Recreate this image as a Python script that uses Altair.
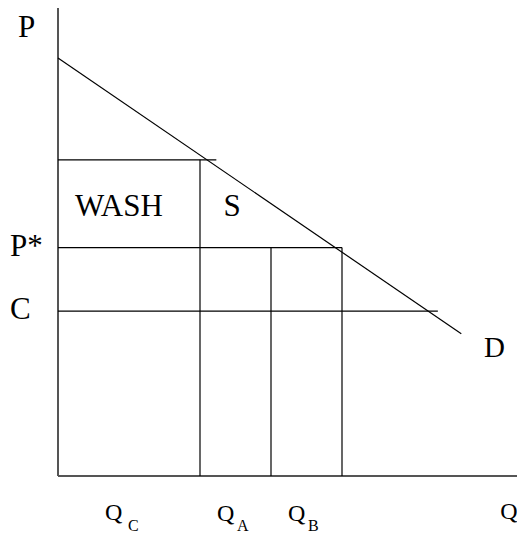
import altair as alt
import pandas as pd

# Diagram coordinates (Q horizontal, P vertical)
q_axis_end = 6.465
p_axis_end = 10.0
demand_q = [0.0, 5.68]
demand_p = [8.82, 3.0]
p_top = 6.67
p_star = 4.82
p_c = 3.48
q_a = 2.0
q_b = 3.0
q_x = 4.0
top_end = 2.23
c_end = 5.35

# segments: x, y, x2, y2, kind
seg_x = [0, 0, demand_q[0], 0, 0, 0, q_a, q_b, q_x]
seg_y = [0, 0, demand_p[0], p_top, p_star, p_c, 0, 0, 0]
seg_x2 = [0, q_axis_end, demand_q[1], top_end, q_x, c_end, q_a, q_b, q_x]
seg_y2 = [p_axis_end, 0, demand_p[1], p_top, p_star, p_c, p_top, p_star, p_star]
seg_kind = ["axis", "axis", "line", "line", "line", "line", "line", "line", "line"]

# big labels
big_text = ["P", "P*", "C", "WASH", "S"]
big_q = [-0.563, -0.676, -0.676, 0.239, 2.33]
big_p = [9.27, 4.64, 3.31, 5.485, 5.485]

d_text = ["D"]
d_q = [6.0]
d_p = [2.51]

q_text = ["Q", "Q", "Q", "Q"]
q_q = [0.662, 2.24, 3.24, 6.23]
q_p = [-0.928, -0.95, -0.95, -0.91]

sub_text = ["C", "A", "B"]
sub_q = [0.986, 2.52, 3.52]
sub_p = [-1.17, -1.17, -1.17]

segs = pd.DataFrame({"x": seg_x, "y": seg_y, "x2": seg_x2, "y2": seg_y2, "kind": seg_kind})
big = pd.DataFrame({"t": big_text, "q": big_q, "p": big_p})
dlab = pd.DataFrame({"t": d_text, "q": d_q, "p": d_p})
qlab = pd.DataFrame({"t": q_text, "q": q_q, "p": q_p})
slab = pd.DataFrame({"t": sub_text, "q": sub_q, "p": sub_p})

xs = alt.Scale(domain=[-50 / 71, 459 / 71], nice=False, zero=False)
ys = alt.Scale(domain=[-57 / 47.4, 468 / 47.4], nice=False, zero=False)

FONT = "Times New Roman"

def X(f):
    return alt.X(f, type="quantitative", scale=xs, axis=None)

def Y(f):
    return alt.Y(f, type="quantitative", scale=ys, axis=None)

axes = alt.Chart(segs).transform_filter(alt.datum.kind == "axis").mark_rule(
    color="#555555", strokeWidth=2
).encode(x=X("x"), y=Y("y"), x2="x2", y2="y2")

lines = alt.Chart(segs).transform_filter(alt.datum.kind == "line").mark_rule(
    color="black", strokeWidth=1.2
).encode(x=X("x"), y=Y("y"), x2="x2", y2="y2")

def txt(df, size):
    return alt.Chart(df).mark_text(
        font=FONT, fontSize=size, align="left", baseline="alphabetic", color="black"
    ).encode(x=X("q"), y=Y("p"), text="t:N")

chart = alt.layer(
    axes, lines, txt(big, 31), txt(dlab, 29), txt(qlab, 24), txt(slab, 16)
).properties(
    width=509, height=525, padding=0, autosize=alt.AutoSizeParams(type="none")
).configure_view(stroke=None)

chart.save("out.html", embed_options={"renderer": "svg", "actions": False})
